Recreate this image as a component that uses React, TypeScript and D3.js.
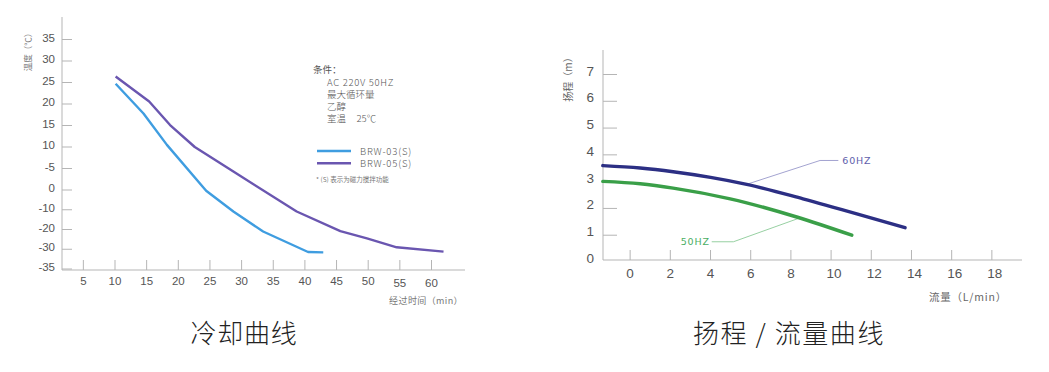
import React from "react";
import * as d3 from "d3";

// ---------- Left chart: cooling curve ----------
const coolYTickValues = [35, 30, 25, 20, 15, 10, 5, 0, -10, -20, -30, -35];
const coolYTickLabels = ["35", "30", "25", "20", "15", "10", "-5", "0", "-10", "-20", "-30", "-35"];
const coolXTicks = [5, 10, 15, 20, 25, 30, 35, 40, 45, 50, 55, 60];

const brw03Time = [10.1, 14.5, 18.2, 24.4, 28.7, 33.4, 40.5, 42.9];
const brw03Temp = [24.7, 17.8, 10.5, -0.4, -10.9, -21, -30.7, -30.8];
const brw05Time = [10.1, 15.4, 18.7, 22.6, 28.7, 38.7, 45.6, 49.8, 54.5, 61.9];
const brw05Temp = [26.4, 20.6, 15.1, 10, 4.3, -10.9, -20.8, -24.5, -29, -30.6];

const conditionLines = ["AC 220V 50HZ", "最大循环量", "乙醇", "室温     25℃"];
const coolSeriesNames = ["BRW-03(S)", "BRW-05(S)"];

// ---------- Right chart: head / flow ----------
const flowXTicks = [0, 2, 4, 6, 8, 10, 12, 14, 16, 18];
const headYTicks = [0, 1, 2, 3, 4, 5, 6, 7];
const hz60Flow = [-1.36, 0.5, 2.14, 4, 5.8, 8.6, 11.28, 13.68];
const hz60Head = [3.6, 3.51, 3.37, 3.16, 2.9, 2.36, 1.8, 1.28];
const hz50Flow = [-1.36, 0.5, 2.14, 4.98, 8.29, 11.03];
const hz50Head = [3.01, 2.92, 2.76, 2.36, 1.68, 1.0];
const hz60Leader = [[5.8, 2.9], [9.45, 3.79], [10.36, 3.79]];
const hz50Leader = [[8.46, 1.65], [5.14, 0.755], [4.06, 0.755]];

const C_BLUE = "#3f9de0";
const C_PURPLE = "#6a56b0";
const C_NAVY = "#2c2f84";
const C_GREEN = "#3a9f48";
const AXIS = "#b5b5b5";
const TXT = "#555";
const SANS = "'Liberation Sans', Arial, sans-serif";
const CJK = "'Noto Sans CJK SC', 'Noto Sans', sans-serif";

export default function App() {
  // left scales
  const valToIdx = d3.scaleLinear().domain(coolYTickValues).range(d3.range(coolYTickValues.length));
  const idxToPx = d3.scaleLinear().domain([0, 7, 11]).range([39.5, 190, 269]);
  const ly = (v: number) => idxToPx(valToIdx(v));
  const lx = d3.scaleLinear().domain([0, 65]).range([51.7, 463.15]);
  const lAxisX = 62;
  const lAxisY = 270;

  const coolLine = d3
    .line<[number, number]>()
    .x((d) => lx(d[0]))
    .y((d) => ly(d[1]));
  const s03 = brw03Time.map((t, i) => [t, brw03Temp[i]] as [number, number]);
  const s05 = brw05Time.map((t, i) => [t, brw05Temp[i]] as [number, number]);

  // right scales
  const rx = d3.scaleLinear().domain([-1.35, 19.4]).range([603, 1020]);
  const ry = d3.scaleLinear().domain([0, 7]).range([262, 74.5]);
  const rAxisY = 260;
  const flowLine = d3
    .line<[number, number]>()
    .x((d) => rx(d[0]))
    .y((d) => ry(d[1]))
    .curve(d3.curveMonotoneX);
  const h60 = hz60Flow.map((f, i) => [f, hz60Head[i]] as [number, number]);
  const h50 = hz50Flow.map((f, i) => [f, hz50Head[i]] as [number, number]);
  const leaderLine = d3
    .line<number[]>()
    .x((d) => rx(d[0]))
    .y((d) => ry(d[1]));

  return (
    <svg
      width={1049}
      height={372}
      style={{ position: "absolute", left: 0, top: 0, background: "#fff" }}
    >
      <rect width={1049} height={372} fill="#fff" />
      {/* ===== Left chart ===== */}
      <line x1={lAxisX} y1={17} x2={lAxisX} y2={lAxisY} stroke={AXIS} strokeWidth={1} />
      <line x1={lAxisX} y1={lAxisY} x2={465} y2={lAxisY} stroke={AXIS} strokeWidth={1} />
      {coolYTickValues.map((v, i) => (
        <g key={"ly" + i}>
          <line x1={lAxisX} x2={lAxisX + 10} y1={ly(v)} y2={ly(v)} stroke={AXIS} />
          <text
            x={55}
            y={ly(v) - 2}
            textAnchor="end"
            dominantBaseline="central"
            fontFamily={SANS}
            fontSize={11.5}
            fill={TXT}
          >
            {coolYTickLabels[i]}
          </text>
        </g>
      ))}
      {coolXTicks.map((t) => (
        <g key={"lx" + t}>
          <line x1={lx(t)} x2={lx(t)} y1={lAxisY - 10} y2={lAxisY} stroke={AXIS} />
          <text
            x={lx(t)}
            y={t >= 55 ? 282.5 : 280.5}
            textAnchor="middle"
            dominantBaseline="central"
            fontFamily={SANS}
            fontSize={11.5}
            fill={TXT}
          >
            {t}
          </text>
        </g>
      ))}
      <text
        transform="translate(27,50) rotate(-90)"
        textAnchor="middle"
        dominantBaseline="central"
        fontFamily={CJK}
        fontSize={8.5}
        fill="#777"
      >
        温度（℃）
      </text>
      <text x={463} y={300} textAnchor="end" dominantBaseline="central" fontFamily={CJK} fontSize={9} fill="#777" letterSpacing={0.4}>
        经过时间（min）
      </text>

      <path d={coolLine(s03) || ""} fill="none" stroke={C_BLUE} strokeWidth={2.4} strokeLinejoin="round" />
      <path d={coolLine(s05) || ""} fill="none" stroke={C_PURPLE} strokeWidth={2.4} strokeLinejoin="round" />

      {/* conditions */}
      <text x={313} y={68.5} dominantBaseline="central" fontFamily={CJK} fontSize={9.5} fill={TXT}>
        条件：
      </text>
      {conditionLines.map((s, i) => (
        <text
          key={"c" + i}
          x={327}
          y={81.5 + i * 12.1}
          dominantBaseline="central"
          fontFamily={CJK}
          fontSize={9.5}
          fontWeight={300}
          fill={TXT}
          letterSpacing={i === 0 ? 0.7 : 0}
          style={{ whiteSpace: "pre" }}
        >
          {s}
        </text>
      ))}
      {coolSeriesNames.map((n, i) => (
        <g key={"lg" + i}>
          <line
            x1={317}
            x2={351}
            y1={151 + i * 12.3}
            y2={151 + i * 12.3}
            stroke={i === 0 ? C_BLUE : C_PURPLE}
            strokeWidth={2.4}
          />
          <text
            x={360}
            y={151 + i * 12.3}
            dominantBaseline="central"
            fontFamily={CJK}
            fontSize={9.5}
            fontWeight={300}
            fill={TXT}
            letterSpacing={0.8}
          >
            {n}
          </text>
        </g>
      ))}
      <text x={316} y={179} dominantBaseline="central" fontFamily={CJK} fontSize={6.5} fill="#777">
        * (S) 表示为磁力搅拌功能
      </text>

      <text x={244} y={331} textAnchor="middle" dominantBaseline="central" fontFamily={CJK} fontWeight={300} fontSize={26} fill="#222" letterSpacing={0.8}>
        冷却曲线
      </text>

      {/* ===== Right chart ===== */}
      <line x1={603} y1={50} x2={603} y2={rAxisY} stroke={AXIS} />
      <line x1={603} y1={rAxisY} x2={1022} y2={rAxisY} stroke={AXIS} />
      {headYTicks.map((v) => (
        <g key={"ry" + v}>
          {v > 0 && <line x1={603} x2={617} y1={ry(v)} y2={ry(v)} stroke={AXIS} />}
          <text
            x={594}
            y={v === 0 ? 258 : ry(v) - 3.5}
            textAnchor="end"
            dominantBaseline="central"
            fontFamily={SANS}
            fontSize={13.5}
            fill={TXT}
          >
            {v}
          </text>
        </g>
      ))}
      {flowXTicks.map((t) => (
        <g key={"rx" + t}>
          <line x1={rx(t)} x2={rx(t)} y1={rAxisY - 10} y2={rAxisY} stroke={AXIS} />
          <text
            x={rx(t) + (t >= 10 ? 3 : 0)}
            y={273}
            textAnchor="middle"
            dominantBaseline="central"
            fontFamily={SANS}
            fontSize={13.5}
            fill={TXT}
          >
            {t}
          </text>
        </g>
      ))}
      <text
        transform="translate(567,77) rotate(-90)"
        textAnchor="middle"
        dominantBaseline="central"
        fontFamily={CJK}
        fontSize={10}
        fill="#666"
      >
        扬程（m）
      </text>
      <text x={1007} y={296} textAnchor="end" dominantBaseline="central" fontFamily={CJK} fontSize={10.5} fill="#666" letterSpacing={0.8}>
        流量（L/min）
      </text>

      <path d={leaderLine(hz60Leader) || ""} fill="none" stroke="#8c8cc4" strokeWidth={0.8} />
      <path d={leaderLine(hz50Leader) || ""} fill="none" stroke="#7cc48a" strokeWidth={0.8} />
      <path d={flowLine(h60) || ""} fill="none" stroke={C_NAVY} strokeWidth={3.4} strokeLinecap="round" />
      <path d={flowLine(h50) || ""} fill="none" stroke={C_GREEN} strokeWidth={3.4} strokeLinecap="round" />
      <text
        x={rx(hz60Leader[2][0]) + 4}
        y={ry(hz60Leader[2][1])}
        dominantBaseline="central"
        fontFamily="'DejaVu Sans', sans-serif"
        fontSize={9.5}
        letterSpacing={0.8}
        fill="#6060ac"
      >
        60HZ
      </text>
      <text
        x={rx(hz50Leader[2][0]) - 2}
        y={ry(hz50Leader[2][1])}
        textAnchor="end"
        dominantBaseline="central"
        fontFamily="'DejaVu Sans', sans-serif"
        fontSize={9.5}
        letterSpacing={0.8}
        fill="#4aae62"
      >
        50HZ
      </text>

      <text x={789} y={331} textAnchor="middle" dominantBaseline="central" fontFamily={CJK} fontWeight={300} fontSize={26} fill="#222" letterSpacing={1.6}>
        扬程 / 流量曲线
      </text>
    </svg>
  );
}
